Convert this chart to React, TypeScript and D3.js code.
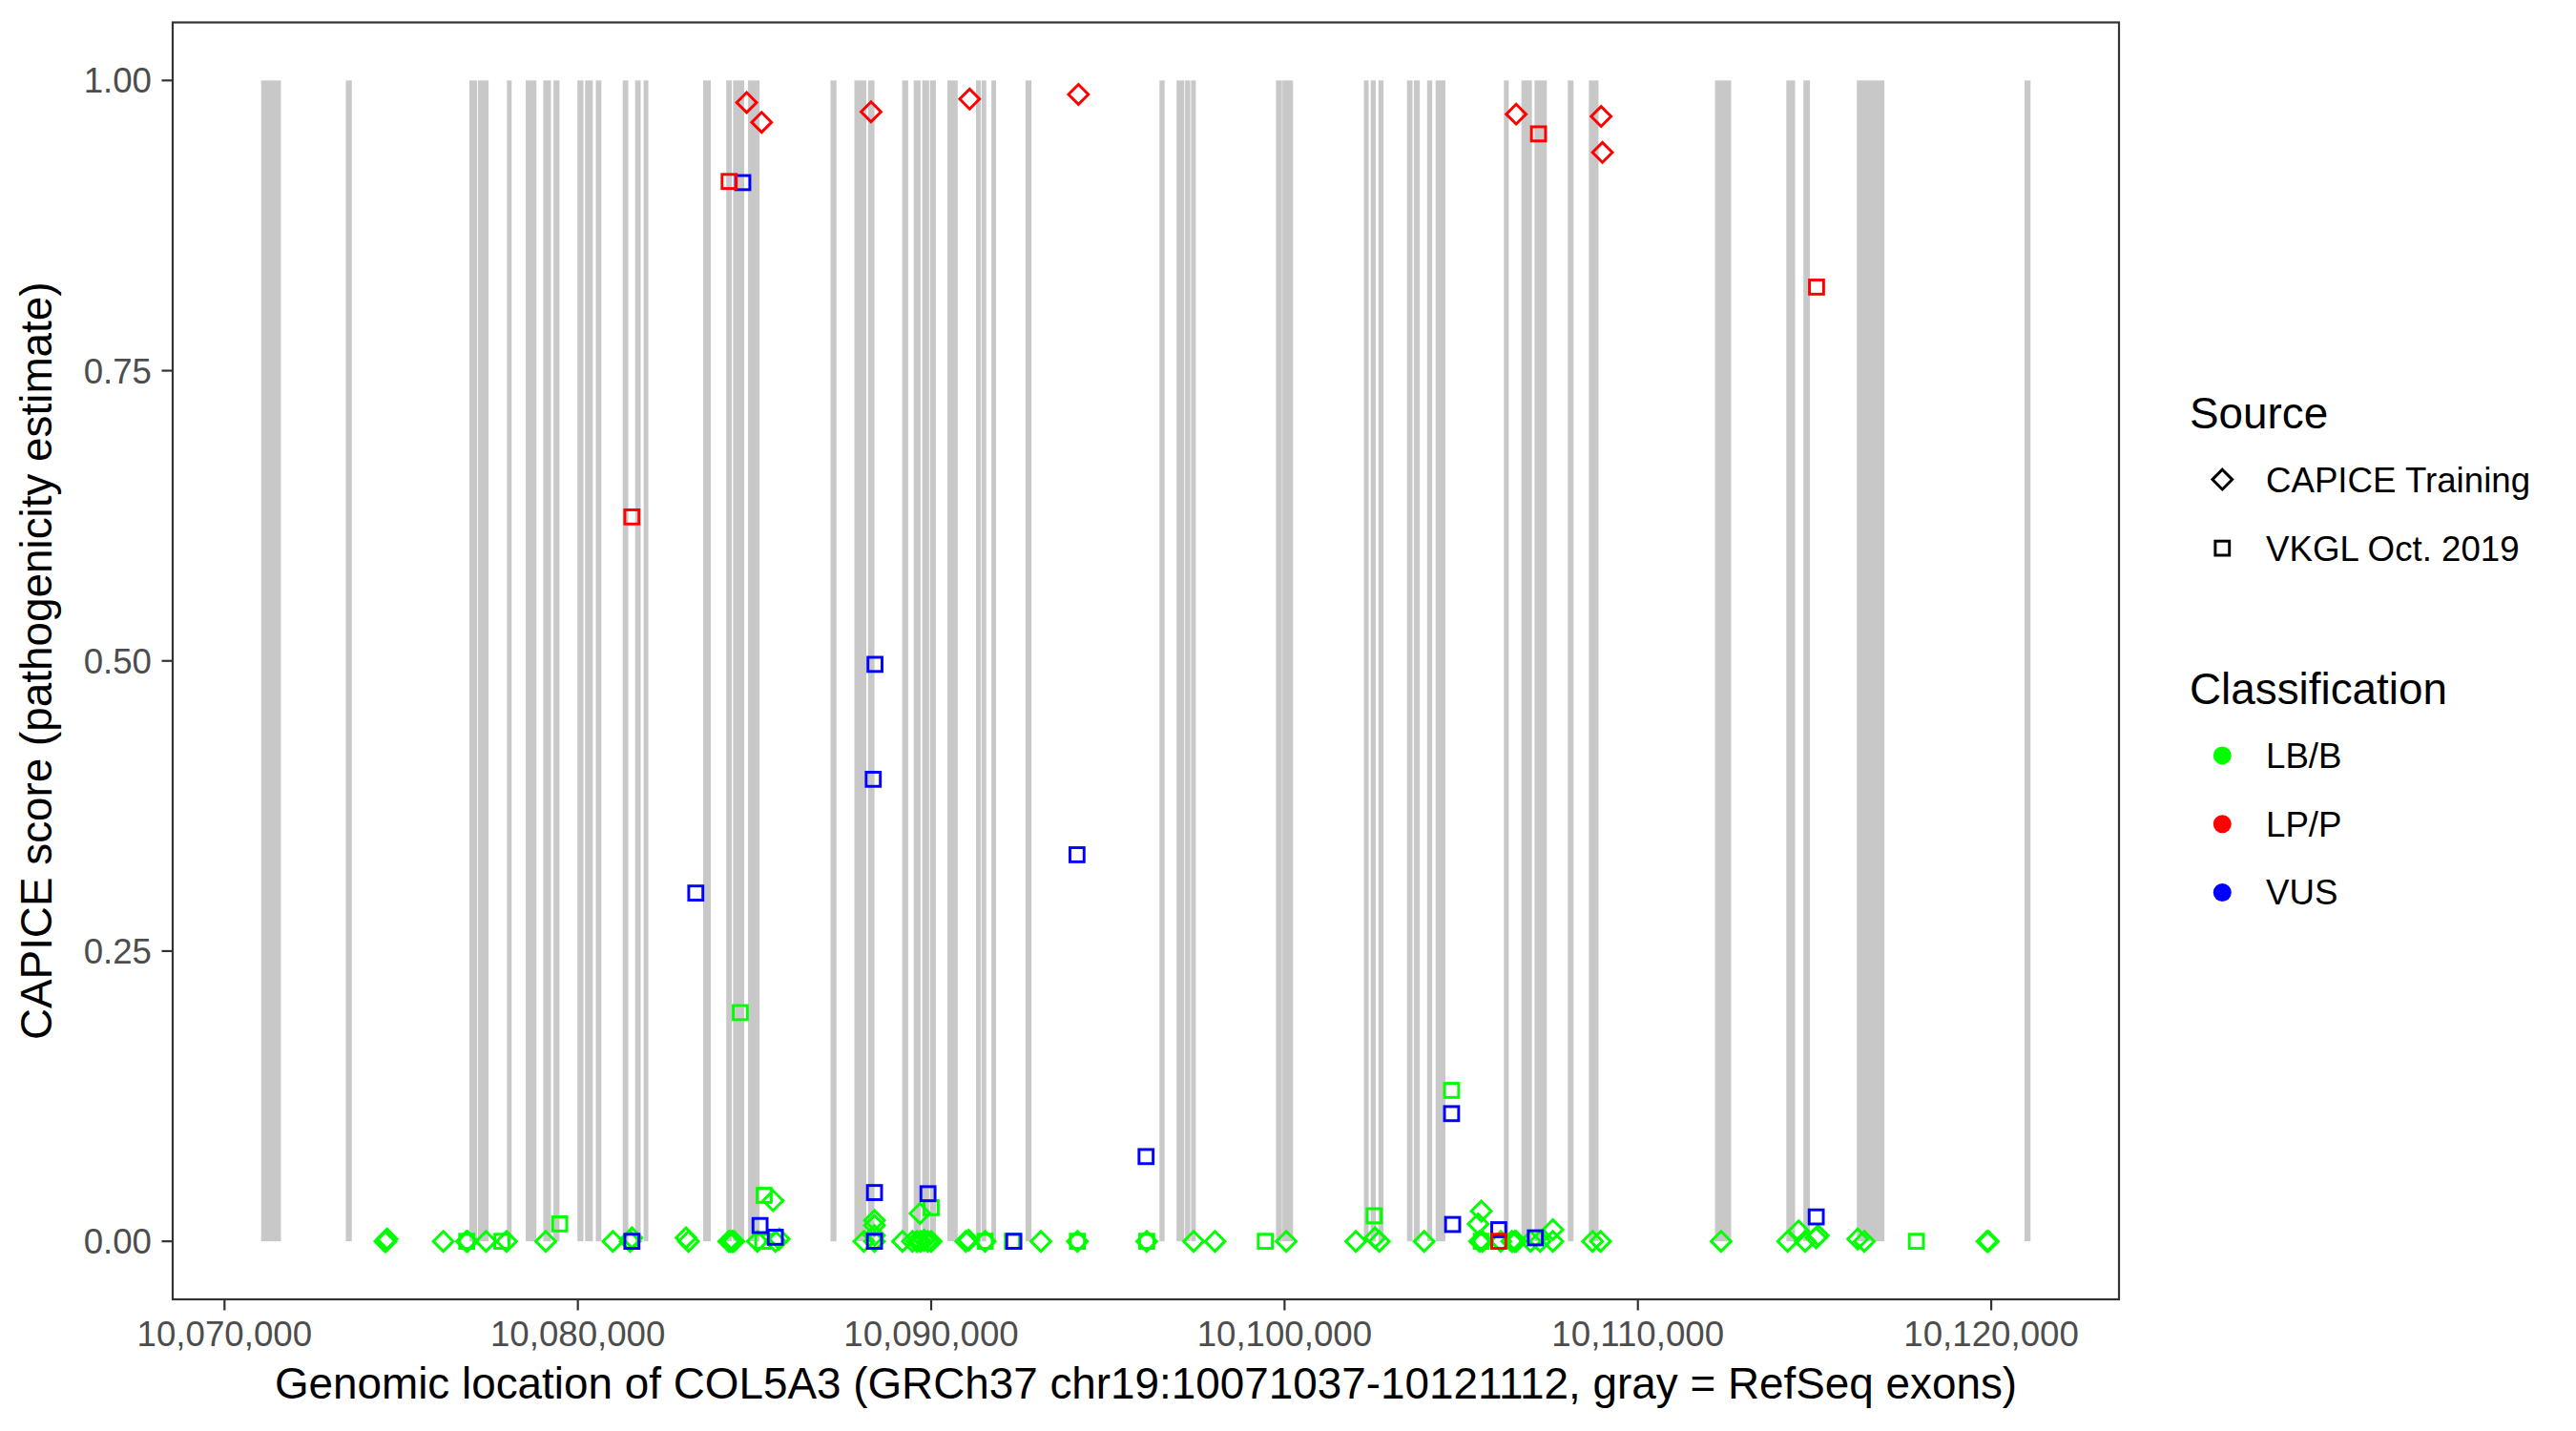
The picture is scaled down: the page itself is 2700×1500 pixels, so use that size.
import React from 'react';
import * as d3 from 'd3';

const W = 2700;
const H = 1500;

const geneStart = 10071037;
const geneEnd = 10121112;

const exonStarts = [
  10071037, 10073434, 10076929, 10077171, 10077993, 10078525, 10079021, 10079311, 10079988, 10080206,
  10080508, 10081270, 10081620, 10081862, 10083545, 10084200, 10084393, 10084817, 10087150, 10087826,
  10088213, 10089179, 10089505, 10089746, 10089964, 10090459, 10091268, 10091425, 10091703, 10092669,
  10096461, 10096944, 10097186, 10097355, 10099758, 10099939, 10102246, 10102439, 10102657, 10103466,
  10103659, 10104034, 10104275, 10106208, 10106704, 10107075, 10108017, 10108612, 10112181, 10114201,
  10114684, 10116196, 10120942,
];
const exonEnds = [
  10071596, 10073603, 10077147, 10077473, 10078126, 10078827, 10079238, 10079480, 10080157, 10080423,
  10080665, 10081427, 10081778, 10081995, 10083763, 10084355, 10084708, 10085143, 10087319, 10088164,
  10088394, 10089348, 10089698, 10089940, 10090133, 10090749, 10091401, 10091558, 10091836, 10092838,
  10096606, 10097162, 10097331, 10097488, 10099927, 10100241, 10102379, 10102584, 10102802, 10103621,
  10103828, 10104180, 10104552, 10106344, 10107001, 10107422, 10108178, 10108885, 10112640, 10114449,
  10114870, 10116977, 10121112,
];

const xTicks = [10070000, 10080000, 10090000, 10100000, 10110000, 10120000];
const yTicks = [0, 0.25, 0.5, 0.75, 1];

// [genomic position, CAPICE score]
const capiceBenign: [number, number][] = [
  [10074540, 0], [10074570, 0], [10074600, 0.002], [10076191, 0], [10076850, 0], [10076880, 0],
  [10077400, 0], [10077983, 0], [10079090, 0], [10080992, 0], [10081480, 0], [10081530, 0.003],
  [10083060, 0.003], [10083130, 0], [10084269, 0], [10084320, 0], [10084370, 0], [10084414, 0],
  [10085079, 0], [10085525, 0.035], [10085590, 0], [10085700, 0.002], [10088095, 0], [10088395, 0],
  [10088395, 0.018], [10088395, 0.0136], [10088395, 0.005], [10089188, 0], [10089470, 0], [10089600, 0],
  [10089700, 0], [10089800, 0.001], [10089900, 0], [10090000, 0], [10089683, 0.024], [10090980, 0],
  [10091060, 0.001], [10091527, 0], [10093104, 0], [10094138, 0], [10096099, 0], [10097427, 0],
  [10098031, 0], [10100048, 0], [10102017, 0], [10102560, 0.003], [10102681, 0], [10103950, 0],
  [10105478, 0.015], [10105567, 0.026], [10105520, 0], [10105600, 0], [10106121, 0], [10106431, 0],
  [10106513, 0], [10106555, 0], [10106963, 0], [10107233, 0], [10107593, 0.01], [10107593, 0],
  [10108718, 0], [10108943, 0], [10112354, 0], [10114238, 0], [10114548, 0.009], [10114734, 0],
  [10115043, 0.003], [10115105, 0.005], [10116221, 0.002], [10116407, 0], [10119880, 0], [10119920, 0],
];
const capicePathogenic: [number, number][] = [
  [10084777, 0.981], [10085200, 0.964], [10088297, 0.973], [10091087, 0.984], [10094167, 0.988],
  [10106555, 0.971], [10108959, 0.969], [10108996, 0.938],
];
const vkglBenign: [number, number][] = [
  [10084597, 0.197], [10104727, 0.13], [10085273, 0.0396], [10089999, 0.029], [10102536, 0.022],
  [10079486, 0.015], [10076856, 0], [10077849, 0], [10085236, 0], [10091527, 0], [10092300, 0],
  [10094138, 0], [10096099, 0], [10099456, 0], [10105567, 0], [10117881, 0],
];
const vkglVus: [number, number][] = [
  [10084668, 0.912], [10088409, 0.497], [10088360, 0.398], [10094127, 0.333], [10083338, 0.3],
  [10104727, 0.11], [10096081, 0.073], [10088395, 0.042], [10089909, 0.041], [10115047, 0.021],
  [10085156, 0.0136], [10104757, 0.0145], [10106063, 0.01], [10085588, 0.0035], [10107098, 0.003],
  [10081529, 0], [10088395, 0], [10092338, 0],
];
const vkglPathogenic: [number, number][] = [
  [10084281, 0.913], [10107187, 0.954], [10115056, 0.822], [10081529, 0.624], [10106063, 0],
];

const sourceLabels = ['CAPICE Training', 'VKGL Oct. 2019'];
const classLabels = ['LB/B', 'LP/P', 'VUS'];
const classColors = ['#00FF00', '#FF0000', '#0000FF'];

const FONT = '"Liberation Sans", Arial, Helvetica, sans-serif';
const DR = 10.4; // diamond half diagonal
const SQ = 7.4; // square half side
const SW = 2.95;

function Diamond({ cx, cy, color }: { cx: number; cy: number; color: string }) {
  return (
    <path
      d={`M${cx},${cy - DR}L${cx + DR},${cy}L${cx},${cy + DR}L${cx - DR},${cy}Z`}
      fill="none"
      stroke={color}
      strokeWidth={SW}
    />
  );
}
function Square({ cx, cy, color }: { cx: number; cy: number; color: string }) {
  return <rect x={cx - SQ} y={cy - SQ} width={SQ * 2} height={SQ * 2} fill="none" stroke={color} strokeWidth={SW} />;
}

export default function App() {
  const left = 181, right = 2221, top = 23.5, bottom = 1362;
  const pad = (geneEnd - geneStart) * 0.05;
  const x = d3.scaleLinear().domain([geneStart - pad, geneEnd + pad]).range([left, right]);
  const y = d3.scaleLinear().domain([-0.05, 1.05]).range([bottom, top]);
  const fmtX = d3.format(',');
  const fmtY = d3.format('.2f');

  const groups: { data: [number, number][]; shape: 'd' | 's'; color: string }[] = [
    { data: capiceBenign, shape: 'd', color: classColors[0] },
    { data: vkglBenign, shape: 's', color: classColors[0] },
    { data: vkglVus, shape: 's', color: classColors[2] },
    { data: capicePathogenic, shape: 'd', color: classColors[1] },
    { data: vkglPathogenic, shape: 's', color: classColors[1] },
  ];

  const legX = 2329.3;
  const legTextX = 2375;

  return (
    <svg
      width={W}
      height={H}
      style={{ position: 'absolute', left: 0, top: 0, background: '#fff' }}
      fontFamily={FONT}
    >
      <rect x={0} y={0} width={W} height={H} fill="#fff" />
      <defs>
        <clipPath id="panel">
          <rect x={left} y={top} width={right - left} height={bottom - top} />
        </clipPath>
      </defs>
      <g clipPath="url(#panel)">
        {exonStarts.map((s, i) => (
          <rect
            key={i}
            x={x(s)}
            y={y(1)}
            width={Math.max(1, x(exonEnds[i]) - x(s))}
            height={y(0) - y(1)}
            fill="#C8C8C8"
          />
        ))}
        {groups.map((g, gi) =>
          g.data.map((p, i) =>
            g.shape === 'd' ? (
              <Diamond key={`${gi}-${i}`} cx={x(p[0])} cy={y(p[1])} color={g.color} />
            ) : (
              <Square key={`${gi}-${i}`} cx={x(p[0])} cy={y(p[1])} color={g.color} />
            )
          )
        )}
      </g>
      <rect x={left} y={top} width={right - left} height={bottom - top} fill="none" stroke="#333333" strokeWidth={2.2} />
      {/* x axis */}
      {xTicks.map((t) => (
        <g key={t}>
          <line x1={x(t)} x2={x(t)} y1={bottom} y2={bottom + 11.5} stroke="#333333" strokeWidth={2.2} />
          <text x={x(t)} y={1411} textAnchor="middle" fontSize={36.67} fill="#4D4D4D">
            {fmtX(t)}
          </text>
        </g>
      ))}
      {/* y axis */}
      {yTicks.map((t) => (
        <g key={t}>
          <line x1={left - 11.5} x2={left} y1={y(t)} y2={y(t)} stroke="#333333" strokeWidth={2.2} />
          <text x={159} y={y(t) + 13} textAnchor="end" fontSize={36.67} fill="#4D4D4D">
            {fmtY(t)}
          </text>
        </g>
      ))}
      <text x={(left + right) / 2} y={1466} textAnchor="middle" fontSize={45.83} fill="#000">
        Genomic location of COL5A3 (GRCh37 chr19:10071037-10121112, gray = RefSeq exons)
      </text>
      <text
        transform={`translate(54,${(top + bottom) / 2}) rotate(-90)`}
        textAnchor="middle"
        fontSize={45.83}
        fill="#000"
      >
        CAPICE score (pathogenicity estimate)
      </text>
      {/* legend: source */}
      <text x={2295} y={449} fontSize={45.83} fill="#000">Source</text>
      <Diamond cx={legX} cy={502.6} color="#000" />
      <text x={legTextX} y={515.5} fontSize={36.67} fill="#000">{sourceLabels[0]}</text>
      <Square cx={legX} cy={574.6} color="#000" />
      <text x={legTextX} y={587.5} fontSize={36.67} fill="#000">{sourceLabels[1]}</text>
      {/* legend: classification */}
      <text x={2295} y={738.2} fontSize={45.83} fill="#000">Classification</text>
      {classLabels.map((c, i) => (
        <g key={c}>
          <circle cx={legX} cy={791.9 + i * 71.8} r={9.5} fill={classColors[i]} />
          <text x={legTextX} y={804.8 + i * 71.8} fontSize={36.67} fill="#000">{c}</text>
        </g>
      ))}
    </svg>
  );
}
